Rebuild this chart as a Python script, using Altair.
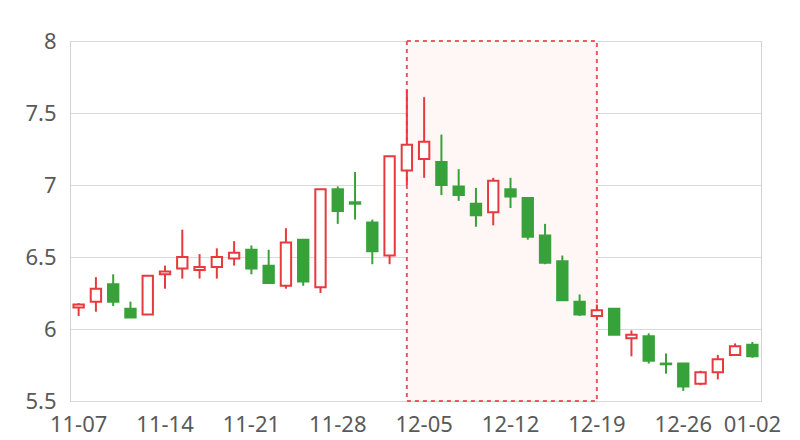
import altair as alt
import pandas as pd

dates = ["11-07", "11-08", "11-11", "11-12", "11-13", "11-14", "11-15", "11-18", "11-19", "11-20",
         "11-21", "11-22", "11-25", "11-26", "11-27", "11-28", "11-29", "12-02", "12-03", "12-04",
         "12-05", "12-06", "12-09", "12-10", "12-11", "12-12", "12-13", "12-16", "12-17", "12-18",
         "12-19", "12-20", "12-23", "12-24", "12-25", "12-26", "12-27", "12-30", "12-31", "01-02"]
opens = [6.15, 6.19, 6.31, 6.14, 6.10, 6.38, 6.42, 6.41, 6.43, 6.49,
         6.55, 6.44, 6.30, 6.62, 6.29, 6.97, 6.88, 6.74, 6.51, 7.10,
         7.18, 7.16, 6.99, 6.87, 6.81, 6.97, 6.91, 6.65, 6.47, 6.19,
         6.09, 6.14, 5.935, 5.95, 5.76, 5.76, 5.62, 5.70, 5.82, 5.89]
closes = [6.17, 6.28, 6.19, 6.08, 6.37, 6.40, 6.50, 6.43, 6.50, 6.53,
          6.42, 6.32, 6.60, 6.33, 6.97, 6.82, 6.87, 6.54, 7.20, 7.28,
          7.30, 7.00, 6.93, 6.79, 7.03, 6.92, 6.64, 6.46, 6.20, 6.10,
          6.13, 5.96, 5.96, 5.78, 5.755, 5.60, 5.70, 5.79, 5.88, 5.81]
highs = [6.18, 6.36, 6.38, 6.19, 6.37, 6.44, 6.69, 6.52, 6.56, 6.61,
         6.58, 6.55, 6.70, 6.62, 6.97, 6.99, 7.09, 6.76, 7.20, 7.66,
         7.61, 7.35, 7.11, 6.98, 7.05, 7.05, 6.91, 6.73, 6.51, 6.24,
         6.17, 6.14, 5.99, 5.97, 5.83, 5.76, 5.71, 5.82, 5.90, 5.91]
lows = [6.09, 6.12, 6.16, 6.08, 6.10, 6.28, 6.35, 6.35, 6.35, 6.44,
        6.38, 6.32, 6.28, 6.30, 6.25, 6.73, 6.76, 6.45, 6.45, 7.00,
        7.05, 6.93, 6.89, 6.71, 6.72, 6.84, 6.62, 6.45, 6.20, 6.09,
        6.06, 5.96, 5.81, 5.76, 5.69, 5.57, 5.61, 5.65, 5.82, 5.80]
label_dates = ["11-07", "11-14", "11-21", "11-28", "12-05", "12-12", "12-19", "12-26", "01-02"]
y_ticks = [5.5, 6, 6.5, 7, 7.5, 8]
highlight_start = ["12-04"]
highlight_end = ["12-19"]

RED = "#e8393e"
GREEN = "#38a23a"
FONT = "Noto Sans"
LABEL_COLOR = "#595959"

df = pd.DataFrame({"d": dates, "o": opens, "c": closes, "h": highs, "l": lows})
df["dir"] = ["up" if c >= o else "down" for o, c in zip(opens, closes)]
hl = pd.DataFrame({"start": highlight_start, "end": highlight_end})

xscale = alt.Scale(domain=dates, paddingInner=0, paddingOuter=0)
yscale = alt.Scale(domain=[5.5, 8], nice=False, zero=False)
xaxis = alt.Axis(values=label_dates, title=None, labelAngle=0, ticks=False, domain=False,
                 labelFont=FONT, labelFontSize=22, labelColor=LABEL_COLOR, labelPadding=13,
                 grid=False)
yaxis = alt.Axis(values=y_ticks, title=None, ticks=False, domain=False, format="~g",
                 labelFont=FONT, labelFontSize=22, labelColor=LABEL_COLOR, labelPadding=14,
                 grid=True, gridColor="#d9d9d9", gridWidth=1)

stroke_scale = alt.Scale(domain=["up", "down"], range=[RED, GREEN])
fill_scale = alt.Scale(domain=["up", "down"], range=["#ffffff", GREEN])

highlight = alt.Chart(hl).mark_rect(
    fill="#fff6f6", stroke="#f0565b", strokeDash=[4, 4], strokeWidth=2
).encode(
    x=alt.X("start:O", bandPosition=0.5, scale=xscale, axis=xaxis),
    x2=alt.X2("end", bandPosition=0.5),
    y=alt.value(0),
    y2=alt.value(360),
)

base = alt.Chart(df).encode(x=alt.X("d:O", scale=xscale, axis=xaxis))

wicks = base.mark_rule(strokeWidth=2).encode(
    y=alt.Y("l:Q", scale=yscale, axis=yaxis),
    y2="h:Q",
    stroke=alt.Stroke("dir:N", scale=stroke_scale, legend=None),
)

bodies = base.mark_bar(width=alt.RelativeBandSize(0.6), strokeWidth=2).encode(
    y=alt.Y("o:Q", scale=yscale, axis=yaxis),
    y2="c:Q",
    fill=alt.Fill("dir:N", scale=fill_scale, legend=None),
    stroke=alt.Stroke("dir:N", scale=stroke_scale, legend=None),
)

chart = alt.layer(highlight, wicks, bodies).properties(
    width=691, height=360,
    autosize=alt.AutoSizeParams(type="none"),
    padding={"left": 62, "top": 33, "right": 20, "bottom": 40},
).configure_view(stroke="#d0d0d0", strokeWidth=1)

chart.save("out.html", embed_options={"renderer": "svg", "actions": False})
